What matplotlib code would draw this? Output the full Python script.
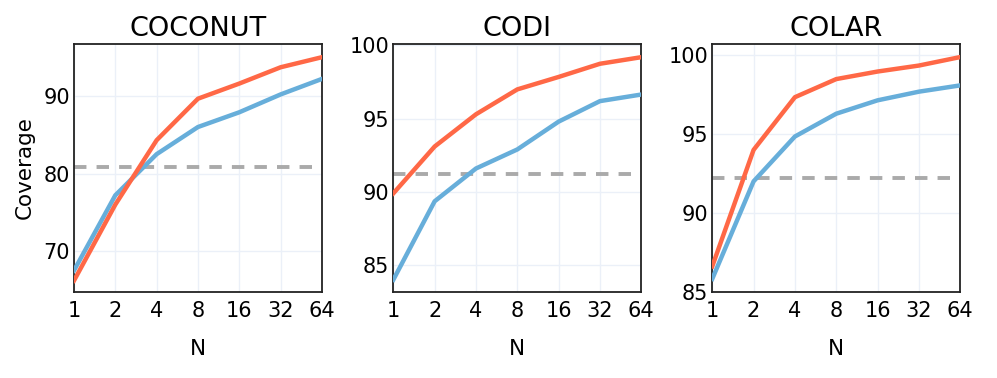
import matplotlib
matplotlib.use("Agg")
import matplotlib.pyplot as plt

n_values = [1, 2, 4, 8, 16, 32, 64]
tick_labels = ["1", "2", "4", "8", "16", "32", "64"]

titles = ["COCONUT", "CODI", "COLAR"]

# red (upper) and blue curves
red_coconut = [66.2, 76.0, 84.3, 89.65, 91.6, 93.7, 95.0]
blue_coconut = [67.5, 77.2, 82.5, 86.0, 87.9, 90.2, 92.2]
red_codi = [89.9, 93.1, 95.3, 97.0, 97.85, 98.75, 99.2]
blue_codi = [84.0, 89.36, 91.6, 92.9, 94.8, 96.2, 96.65]
red_colar = [86.6, 94.0, 97.35, 98.5, 98.98, 99.36, 99.9]
blue_colar = [85.8, 92.0, 94.85, 96.3, 97.15, 97.7, 98.1]

# dashed baselines
baselines = [80.85, 91.23, 92.23]

ylims = [(64.8, 96.7), (83.2, 100.1), (85.0, 100.73)]
yticks = [[70, 80, 90], [85, 90, 95, 100], [85, 90, 95, 100]]

red = "#FF6846"
blue = "#67AEDA"
grey = "#AAAAAA"
grid = "#EBF0F8"

plt.rcParams["font.family"] = "DejaVu Sans"

fig = plt.figure(figsize=(9.97, 3.78), dpi=100)
lefts = [0.0742, 0.3945, 0.7144]
width = 0.2487
bottom = 0.2288
height = 0.8836 - 0.2288

reds = [red_coconut, red_codi, red_colar]
blues = [blue_coconut, blue_codi, blue_colar]

for i in range(3):
    ax = fig.add_axes([lefts[i], bottom, width, height])
    ax.set_xscale("log", base=2)
    ax.axhline(baselines[i], color=grey, lw=2.8, ls=(0, (3.2, 2.6)), zorder=2)
    ax.plot(n_values, blues[i], color=blue, lw=3.2, zorder=3)
    ax.plot(n_values, reds[i], color=red, lw=3.2, zorder=4)
    ax.set_xlim(1, 64)
    ax.set_ylim(*ylims[i])
    ax.set_xticks(n_values)
    ax.set_xticklabels(tick_labels)
    ax.minorticks_off()
    ax.set_yticks(yticks[i])
    ax.tick_params(axis="both", labelsize=15, length=0)
    ax.tick_params(axis="x", pad=6.5)
    ax.tick_params(axis="y", pad=3)
    ax.grid(True, color=grid, lw=1)
    ax.set_axisbelow(True)
    for s in ax.spines.values():
        s.set_linewidth(1.3)
        s.set_color("#222222")
    ax.set_title(titles[i], fontsize=19.5, pad=6)
    ax.set_xlabel("N", fontsize=15.5, labelpad=13)
    if i == 0:
        ax.set_ylabel("Coverage", fontsize=15.5, labelpad=6)

fig.savefig("out.png", dpi=100)
